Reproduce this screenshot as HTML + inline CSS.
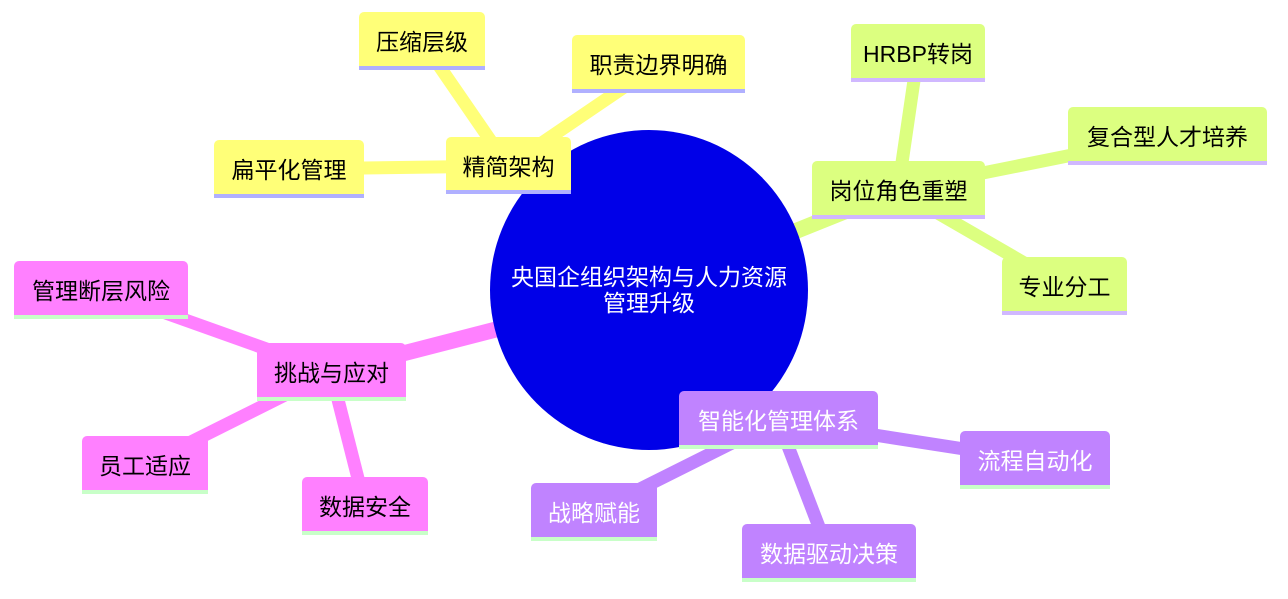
<!DOCTYPE html>
<html><head><meta charset="utf-8"><style>
body{margin:0;width:1288px;height:599px;background:#fff;overflow:hidden;position:relative;font-family:"Liberation Sans","Noto Sans CJK SC",sans-serif}
svg{position:absolute;left:0;top:0}
.n{position:absolute;box-sizing:border-box;display:flex;align-items:center;justify-content:center;font-size:23px;border-radius:5px 5px 0 0;padding-top:2px}
.y{background:#ffff78;border-bottom:4px solid #b0b0ff;color:#000}
.g{background:#dcff80;border-bottom:4px solid #d0b8ff;color:#000}
.p{background:#c083ff;border-bottom:4px solid #c8ffc8;color:#fff}
.k{background:#ff80ff;border-bottom:4px solid #c8ffc8;color:#000}
.root{position:absolute;left:490px;top:130px;width:318px;height:320px;border-radius:50%;background:#0000e8;color:#fff;display:flex;align-items:center;justify-content:center;text-align:center;font-size:23px;line-height:26px}
</style></head><body>
<svg width="1288" height="599">
<g stroke-linecap="butt">
<g stroke="#ffff78"><line x1="649" y1="290" x2="508" y2="166" stroke-width="16"/><line x1="508" y1="166" x2="422" y2="41" stroke-width="13"/><line x1="508" y1="166" x2="658" y2="64" stroke-width="13"/><line x1="508" y1="166" x2="289" y2="169" stroke-width="13"/></g>
<g stroke="#dcff80"><line x1="649" y1="290" x2="898" y2="190" stroke-width="16"/><line x1="898" y1="190" x2="918" y2="53" stroke-width="13"/><line x1="898" y1="190" x2="1167" y2="136" stroke-width="13"/><line x1="898" y1="190" x2="1064" y2="286" stroke-width="13"/></g>
<g stroke="#ff80ff"><line x1="649" y1="290" x2="331" y2="372" stroke-width="16"/><line x1="331" y1="372" x2="101" y2="290" stroke-width="13"/><line x1="331" y1="372" x2="145" y2="465" stroke-width="13"/><line x1="331" y1="372" x2="365" y2="506" stroke-width="13"/></g>
<g stroke="#c083ff"><line x1="649" y1="290" x2="778" y2="420" stroke-width="16"/><line x1="778" y1="420" x2="1035" y2="460" stroke-width="13"/><line x1="778" y1="420" x2="594" y2="512" stroke-width="13"/><line x1="778" y1="420" x2="829" y2="553" stroke-width="13"/></g>
</g></svg>
<div class="root">央国企组织架构与人力资源<br>管理升级</div>
<div class="n y" style="left:446px;top:137px;width:125px;height:57px">精简架构</div>
<div class="n y" style="left:359px;top:12px;width:126px;height:58px">压缩层级</div>
<div class="n y" style="left:572px;top:35px;width:173px;height:58px">职责边界明确</div>
<div class="n y" style="left:214px;top:140px;width:150px;height:58px">扁平化管理</div>
<div class="n g" style="left:812px;top:161px;width:173px;height:58px">岗位角色重塑</div>
<div class="n g" style="left:851px;top:24px;width:134px;height:58px">HRBP转岗</div>
<div class="n g" style="left:1068px;top:107px;width:199px;height:58px">复合型人才培养</div>
<div class="n g" style="left:1002px;top:257px;width:125px;height:58px">专业分工</div>
<div class="n k" style="left:257px;top:343px;width:149px;height:58px">挑战与应对</div>
<div class="n k" style="left:14px;top:261px;width:174px;height:58px">管理断层风险</div>
<div class="n k" style="left:82px;top:436px;width:126px;height:58px">员工适应</div>
<div class="n k" style="left:302px;top:477px;width:126px;height:58px">数据安全</div>
<div class="n p" style="left:679px;top:391px;width:199px;height:58px">智能化管理体系</div>
<div class="n p" style="left:960px;top:431px;width:150px;height:58px">流程自动化</div>
<div class="n p" style="left:531px;top:483px;width:126px;height:58px">战略赋能</div>
<div class="n p" style="left:742px;top:524px;width:174px;height:58px">数据驱动决策</div>
</body></html>
